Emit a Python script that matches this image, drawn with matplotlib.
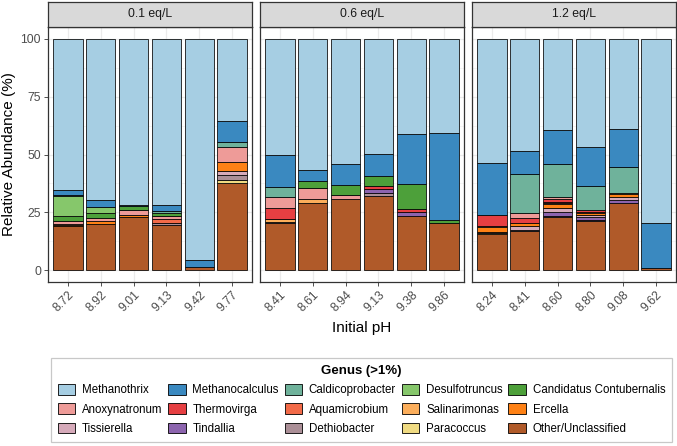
import matplotlib
matplotlib.use("Agg")
import matplotlib.pyplot as plt
from matplotlib.patches import Patch
import numpy as np

plt.rcParams['font.family'] = ['Liberation Sans', 'DejaVu Sans']

# Facets and sample labels (initial pH)
panels = ["0.1 eq/L", "0.6 eq/L", "1.2 eq/L"]
ph_labels = [
    ["8.72", "8.92", "9.01", "9.13", "9.42", "9.77"],
    ["8.41", "8.61", "8.94", "9.13", "9.38", "9.86"],
    ["8.24", "8.41", "8.60", "8.80", "9.08", "9.62"],
]

# Genus order as in the legend (top of stack first)
genera = ["Methanothrix", "Methanocalculus", "Caldicoprobacter", "Desulfotruncus",
          "Candidatus Contubernalis", "Anoxynatronum", "Thermovirga", "Aquamicrobium",
          "Salinarimonas", "Ercella", "Tissierella", "Tindallia", "Dethiobacter",
          "Paracoccus", "Other/Unclassified"]
colors = ["#A6CEE3", "#3A89C0", "#6FB29B", "#86C76B", "#4DA03A",
          "#EE9B98", "#E63F42", "#F26A48", "#FCAE5B", "#FE8115",
          "#D6AABA", "#8C64AE", "#AB8F97", "#F0DB82", "#B05A29"]

# relative abundance (%) per sample, 18 samples (6 per panel)
methanothrix = [65.5, 69.5, 71.8, 71.7, 95.7, 35.5, 50.1, 56.8, 54.0, 49.9, 41.3, 40.8, 53.6, 48.7, 39.5, 46.8, 38.8, 79.5]
methanocalculus = [2.0, 3.1, 0.2, 2.8, 2.8, 9.2, 14.0, 4.6, 9.2, 9.2, 21.5, 37.3, 22.7, 9.6, 14.4, 16.6, 16.5, 19.5]
caldicoprobacter = [0.4, 0, 0, 0.9, 0, 1.9, 4.1, 0, 0, 0, 0, 0, 0, 16.8, 14.6, 10.6, 11.2, 0]
desulfotruncus = [8.6, 2.6, 0, 0, 0, 0, 0, 0, 0, 0, 0, 0, 0, 0, 0, 0, 0, 0]
candidatus = [2.3, 2.2, 2.0, 1.0, 0, 0, 0, 3.1, 4.3, 4.3, 10.5, 1.5, 0, 0, 0, 0, 0, 0]
anoxynatronum = [1.2, 1.5, 1.9, 1.6, 0, 6.8, 4.8, 4.6, 1.6, 0, 0, 0, 0, 2.2, 0.9, 0, 0, 0]
thermovirga = [0, 0, 0, 0, 0, 0, 5.0, 0, 0, 1.4, 1.4, 0, 4.6, 2.2, 1.0, 0.9, 0, 0]
aquamicrobium = [0, 0, 0, 1.4, 0, 0, 0, 0, 0, 0, 0, 0, 0, 0, 0.6, 0, 0, 0]
salinarimonas = [0.3, 0, 0.4, 0, 0, 0, 1.2, 2.0, 0, 0, 0, 0, 0.5, 0, 0.3, 0.5, 0.7, 0]
ercella = [0.6, 1.0, 0.6, 0, 0, 3.6, 0, 0, 0, 0, 0, 0, 2.0, 1.4, 1.8, 0.6, 1.0, 0]
tissierella = [0, 0, 0, 0.3, 0, 1.8, 0, 0, 0, 0, 0, 0, 0, 1.7, 1.8, 0.9, 1.4, 0]
tindallia = [0, 0, 0, 0, 0, 0, 0, 0, 0, 1.7, 1.9, 0, 0, 0, 1.7, 1.4, 1.4, 0]
dethiobacter = [0, 0, 0, 0.8, 0, 2.0, 0.5, 0, 0, 1.2, 0, 0, 0.5, 0.3, 0.3, 0.6, 0, 0]
paracoccus = [0, 0, 0, 0, 0, 1.4, 0, 0, 0, 0, 0, 0, 0.4, 0, 0, 0, 0, 0]
other = [19.1, 20.1, 23.1, 19.5, 1.5, 37.8, 20.3, 28.9, 30.9, 32.3, 23.4, 20.4, 15.7, 17.1, 23.1, 21.1, 29.0, 1.0]

abund = np.array([methanothrix, methanocalculus, caldicoprobacter, desulfotruncus,
                  candidatus, anoxynatronum, thermovirga, aquamicrobium,
                  salinarimonas, ercella, tissierella, tindallia, dethiobacter,
                  paracoccus, other])

W, H = 677, 446
fig = plt.figure(figsize=(W / 100, H / 100), dpi=100)

px_left = [48, 260, 472]
pw = 204
top_px, bot_px = 27, 282
strip_h = 25

for p in range(3):
    ax = fig.add_axes([px_left[p] / W, 1 - bot_px / H, pw / W, (bot_px - top_px) / H])
    x = np.arange(1, 7)
    vals = abund[:, p * 6:(p + 1) * 6]
    bottom = np.zeros(6)
    # stack from bottom: last genus first
    for g in range(len(genera) - 1, -1, -1):
        v = vals[g]
        mask = v > 0
        ax.bar(x[mask], v[mask], bottom=bottom[mask], width=0.9, color=colors[g],
               edgecolor='black', linewidth=0.55, zorder=3)
        bottom += v
    ax.set_xlim(0.4, 6.6)
    ax.set_ylim(-5, 105)
    ax.set_facecolor('white')
    ax.set_xticks(x)
    ax.set_xticklabels(ph_labels[p], rotation=45, ha='right', rotation_mode='anchor',
                       fontsize=8.8, color='#4D4D4D')
    ax.set_yticks([0, 25, 50, 75, 100])
    ax.set_yticks([12.5, 37.5, 62.5, 87.5], minor=True)
    ax.grid(True, which='major', color='#EBEBEB', linewidth=0.9, zorder=0)
    ax.grid(True, which='minor', axis='y', color='#F2F2F2', linewidth=0.5, zorder=0)
    ax.set_axisbelow(True)
    ax.tick_params(axis='x', length=3, width=0.6, color='#333333', pad=2)
    ax.tick_params(axis='y', which='minor', length=0)
    if p == 0:
        ax.set_yticklabels(['0', '25', '50', '75', '100'], fontsize=8.8, color='#4D4D4D')
        ax.tick_params(axis='y', length=3, width=0.6, color='#333333', pad=2)
    else:
        ax.tick_params(axis='y', length=0, labelleft=False)
    for s in ax.spines.values():
        s.set_color('#333333')
        s.set_linewidth(0.9)

    # strip
    sax = fig.add_axes([px_left[p] / W, 1 - top_px / H, pw / W, strip_h / H])
    sax.set_facecolor('#D9D9D9')
    sax.set_xticks([])
    sax.set_yticks([])
    for s in sax.spines.values():
        s.set_color('#333333')
        s.set_linewidth(0.9)
    sax.text(0.5, 0.5, panels[p], ha='center', va='center', fontsize=8.8,
             color='#1A1A1A', transform=sax.transAxes)

fig.text(362 / W, 1 - 328 / H, "Initial pH", ha='center', va='center', fontsize=11)
fig.text(9 / W, 1 - 154 / H, "Relative Abundance (%)", ha='center', va='center',
         rotation=90, fontsize=11)

# legend, filled row by row like ggplot
handles = [Patch(facecolor=colors[i], edgecolor='black', linewidth=0.6) for i in range(15)]
order = [r * 5 + c for c in range(5) for r in range(3)]
leg = fig.legend([handles[i] for i in order], [genera[i] for i in order],
                 ncol=5, loc='upper center',
                 bbox_to_anchor=(361.5 / W, 1 - 352 / H),
                 fontsize=8.3, title='Genus (>1%)',
                 title_fontproperties={'weight': 'bold', 'size': 9.5},
                 frameon=True, fancybox=False, edgecolor='#BBBBBB',
                 handlelength=1.5, handleheight=1.05, handletextpad=0.6,
                 columnspacing=0.5, labelspacing=0.62, borderpad=0.6)
leg.get_frame().set_linewidth(0.9)

fig.savefig('out.png', dpi=100, facecolor='white')
